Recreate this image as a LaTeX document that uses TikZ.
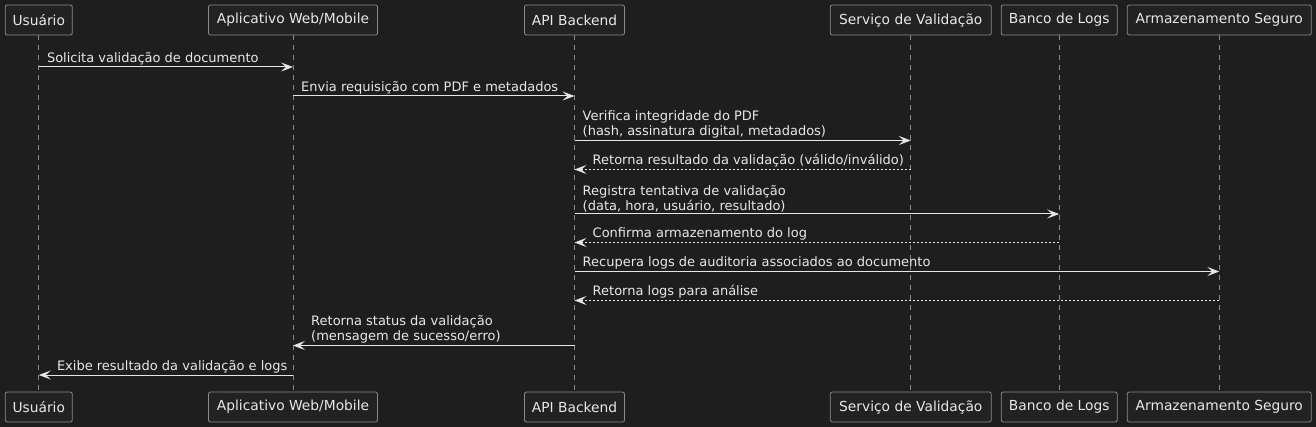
\documentclass[tikz,border=0pt]{standalone}
\usepackage{fontspec}
\setmainfont{DejaVu Sans}
\usetikzlibrary{arrows.meta}
\definecolor{bg}{HTML}{1E1E1E}
\definecolor{boxfill}{HTML}{222222}
\definecolor{boxline}{HTML}{8A8A8A}
\definecolor{fg}{HTML}{E8E8E8}
\definecolor{arr}{HTML}{E6E6E6}
\tikzset{
  part/.style={draw=boxline, fill=boxfill, rounded corners=2pt, line width=0.8pt,
    minimum height=30pt, inner sep=0pt, text=fg, font=\fontsize{13.8}{16}\selectfont},
  life/.style={draw=boxline, line width=0.8pt, dash pattern=on 5pt off 5pt},
  msg/.style={draw=arr, line width=1pt, -{Stealth[length=12pt,width=9pt,inset=5pt]}},
  ret/.style={msg, dash pattern=on 2pt off 2pt},
  lbl/.style={anchor=south west, inner sep=0pt, align=left, text=fg, font=\fontsize{13}{15}\selectfont}
}
\begin{document}
\begin{tikzpicture}[x=1pt,y=-1pt]
\fill[bg] (0,0) rectangle (1316,427);
\useasboundingbox (0,0) rectangle (1316,427);
% top participants
\node[part, minimum width=67pt]  (u1) at (38.8,20) {Usuário};
\node[part, minimum width=169pt] (a1) at (293,20) {Aplicativo Web/Mobile};
\node[part, minimum width=100pt] (b1) at (574.5,20) {API Backend};
\node[part, minimum width=161pt] (s1) at (910.8,20) {Serviço de Validação};
\node[part, minimum width=116pt] (l1) at (1059.2,20) {Banco de Logs};
\node[part, minimum width=184pt] (m1) at (1219.3,20) {Armazenamento Seguro};
% bottom participants
\node[part, minimum width=67pt]  (u2) at (38.8,407) {Usuário};
\node[part, minimum width=169pt] (a2) at (293,407) {Aplicativo Web/Mobile};
\node[part, minimum width=100pt] (b2) at (574.5,407) {API Backend};
\node[part, minimum width=161pt] (s2) at (910.8,407) {Serviço de Validação};
\node[part, minimum width=116pt] (l2) at (1059.2,407) {Banco de Logs};
\node[part, minimum width=184pt] (m2) at (1219.3,407) {Armazenamento Seguro};
% lifelines
\foreach \p in {u,a,b,s,l,m}{\draw[life] (\p1.south) -- (\p2.north);}
% messages
\draw[msg] (u1 |- 0,67) -- (a1 |- 0,67);
\node[lbl] (t1) at ([xshift=8pt]u1 |- 0,65) {Solicita validação de documento};
\draw[msg] (a1 |- 0,96) -- (b1 |- 0,96);
\node[lbl] (t2) at ([xshift=8pt]a1 |- 0,94) {Envia requisição com PDF e metadados};
\draw[msg] (b1 |- 0,140.5) -- (s1 |- 0,140.5);
\node[lbl] (t3) at ([xshift=8pt]b1 |- 0,138.5) {Verifica integridade do PDF\\(hash, assinatura digital, metadados)};
\draw[ret] (s1 |- 0,169.5) -- (b1 |- 0,169.5);
\node[lbl] (t4) at ([xshift=18pt]b1 |- 0,167.5) {Retorna resultado da validação (válido/inválido)};
\draw[msg] (b1 |- 0,214) -- (l1 |- 0,214);
\node[lbl] (t5) at ([xshift=8pt]b1 |- 0,212) {Registra tentativa de validação\\(data, hora, usuário, resultado)};
\draw[ret] (l1 |- 0,242.5) -- (b1 |- 0,242.5);
\node[lbl] (t6) at ([xshift=18pt]b1 |- 0,240.5) {Confirma armazenamento do log};
\draw[msg] (b1 |- 0,271.5) -- (m1 |- 0,271.5);
\node[lbl] (t7) at ([xshift=8pt]b1 |- 0,269.5) {Recupera logs de auditoria associados ao documento};
\draw[ret] (m1 |- 0,300.5) -- (b1 |- 0,300.5);
\node[lbl] (t8) at ([xshift=18pt]b1 |- 0,298.5) {Retorna logs para análise};
\draw[msg] (b1 |- 0,345.5) -- (a1 |- 0,345.5);
\node[lbl] (t9) at ([xshift=18pt]a1 |- 0,343.5) {Retorna status da validação\\(mensagem de sucesso/erro)};
\draw[msg] (a1 |- 0,375) -- (u1 |- 0,375);
\node[lbl] (t10) at ([xshift=18pt]u1 |- 0,373) {Exibe resultado da validação e logs};
\end{tikzpicture}
\end{document}
